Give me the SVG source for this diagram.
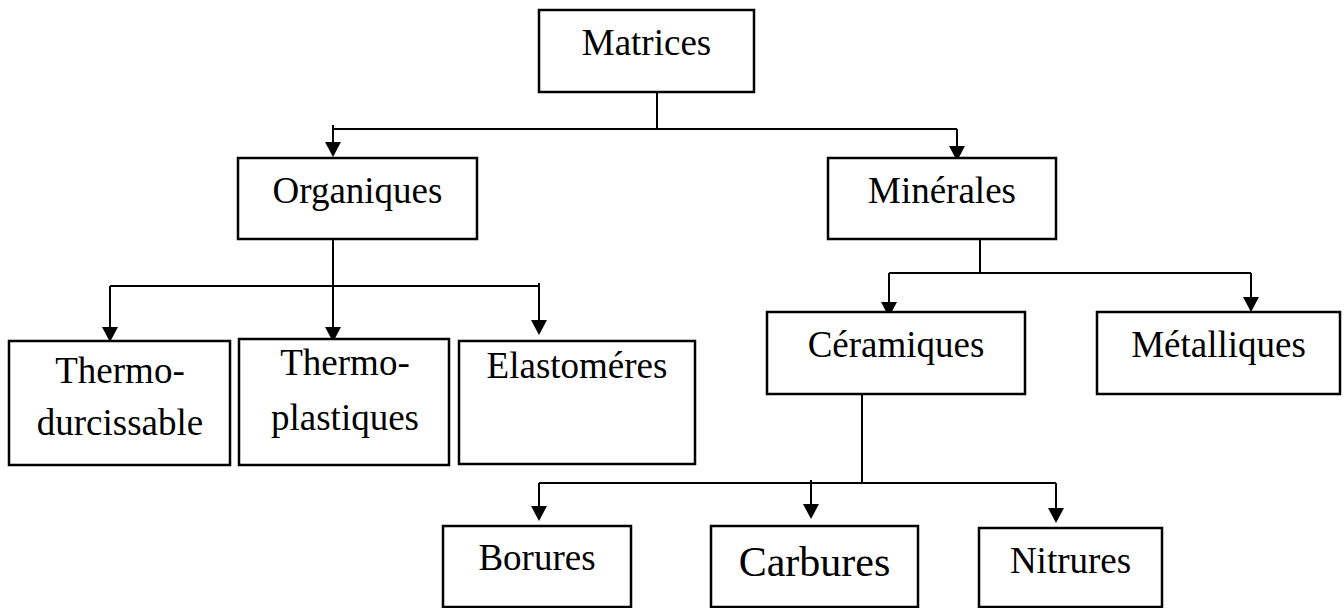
<svg xmlns="http://www.w3.org/2000/svg" width="1344" height="608" viewBox="0 0 1344 608">
<style>
.box{fill:#fff;stroke:#000;stroke-width:2.5}
.t{font-family:"Liberation Serif","Times New Roman",serif;font-size:37px;fill:#000;text-anchor:middle}
.c{fill:none;stroke:#000;stroke-width:2}
.a{marker-end:url(#ah)}
</style>
<defs>
<marker id="ah" markerWidth="15" markerHeight="16" refX="13" refY="8" orient="auto" markerUnits="userSpaceOnUse" viewBox="0 0 15 16">
<path d="M0,0 L15,8 L0,16 Z" fill="#000"/>
</marker>
</defs>
<rect width="1344" height="608" fill="#fff"/>
<g id="connectors">
<path class="c" d="M657,92 V129"/>
<path class="c" d="M333,129 H957"/>
<path class="c a" d="M333,125 V155"/>
<path class="c a" d="M957,129 V159"/>
<path class="c a" d="M333,239 V340"/>
<path class="c" d="M110,286 H539"/>
<path class="c a" d="M110,286 V340"/>
<path class="c a" d="M539,283 V333"/>
<path class="c" d="M980,239 V273"/>
<path class="c" d="M889,273 H1251"/>
<path class="c a" d="M889,273 V315"/>
<path class="c a" d="M1251,273 V310"/>
<path class="c" d="M862,394 V483"/>
<path class="c" d="M539,483 H1056"/>
<path class="c a" d="M539,483 V519"/>
<path class="c a" d="M811,480 V517"/>
<path class="c a" d="M1056,483 V521"/>
</g>
<g id="matrices"><rect class="box" x="539" y="10" width="215" height="82"/><text class="t" x="646.5" y="55">Matrices</text></g>
<g id="organiques"><rect class="box" x="238" y="158" width="239" height="81"/><text class="t" x="357.5" y="203">Organiques</text></g>
<g id="minerales"><rect class="box" x="828" y="158" width="228" height="81"/><text class="t" x="942" y="203">Minérales</text></g>
<g id="thermodurcissable"><rect class="box" x="9" y="341" width="221" height="124"/><text class="t" x="120" y="383">Thermo-</text><text class="t" x="120" y="435">durcissable</text></g>
<g id="thermoplastiques"><rect class="box" x="239" y="339" width="210" height="126"/><text class="t" x="345" y="375">Thermo-</text><text class="t" x="345" y="430">plastiques</text></g>
<g id="elastomeres"><rect class="box" x="459" y="341" width="236" height="123"/><text class="t" x="577" y="378">Elastoméres</text></g>
<g id="ceramiques"><rect class="box" x="767" y="312" width="258" height="82"/><text class="t" x="896" y="357">Céramiques</text></g>
<g id="metalliques"><rect class="box" x="1097" y="312" width="243" height="82"/><text class="t" x="1218.5" y="357">Métalliques</text></g>
<g id="borures"><rect class="box" x="443" y="526" width="188" height="81"/><text class="t" x="537" y="570">Borures</text></g>
<g id="carbures"><rect class="box" x="711" y="526" width="207" height="81"/><text class="t" x="814.5" y="576" style="font-size:42px">Carbures</text></g>
<g id="nitrures"><rect class="box" x="979" y="528" width="183" height="79"/><text class="t" x="1070.5" y="573">Nitrures</text></g>
</svg>
